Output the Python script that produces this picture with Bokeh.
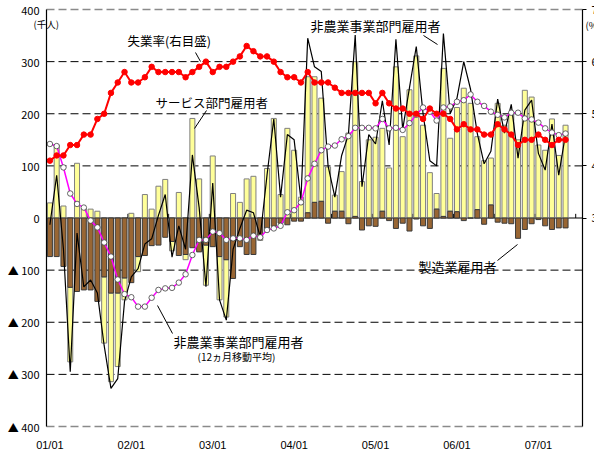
from bokeh.plotting import figure
from bokeh.models import Range1d, LinearAxis, FixedTicker, Label, ColumnDataSource
from bokeh.embed import file_html
from bokeh.resources import INLINE

# ---------------- data (thousand persons / %) Jan 2001 - May 2007 ----------------
manufacturing = [
    -74, -74, -93, -133, -141, -138, -138, -160, -113, -144, -144, -115,
    -124, -74, -72, -53, -52, -37, -45, -72, -70, -57, -65, -52,
    -55, -74, -80, -116, -55, -70, -70, -33, -20, -16, -10, -13,
    -6, -6, 10, 30, 32, -10, 13, 13, -11, 3, -23, -15,
    -16, 13, -5, -20, -10, -25, -2, -15, -20, 17, 3, 13,
    12, -5, 0, 16, -12, 25, -8, -10, -11, -39, -22, -11,
    -3, -15, -22, -19, -19,
]
services = [
    29, 140, 23, -143, 105, 19, 17, 13, -127, -170, -141, -42,
    9, -29, 45, 17, 61, 74, -18, 49, -10, 191, 75, -77,
    119, -83, -110, 47, 30, 75, 80, -10, 95, 191, 45, 172,
    130, 40, 261, 241, 198, 98, 31, 76, 163, 297, 70, 150,
    155, 159, 96, 290, 156, 246, 311, 178, 87, 30, 284, 140,
    200, 249, 220, 140, 110, 90, 220, 178, 200, 150, 245, 232,
    140, 130, 190, 120, 178,
]
nonfarm = [
    -13, 82, -60, -295, -29, -132, -119, -144, -245, -327, -308, -160,
    -113, -97, -50, -40, 5, 45, -75, -15, -60, 121, 20, -132,
    67, -157, -196, -60, -20, 15, 10, -36, 82, 190, 40, 160,
    150, 35, 345, 290, 281, 100, 40, 120, 160, 351, 60, 160,
    142, 225, 140, 343, 170, 250, 329, 200, 110, 100, 354, 200,
    230, 300, 247, 162, 104, 128, 228, 163, 218, 115, 207, 226,
    124, 92, 180, 82, 161,
]
nonfarm_ma12 = [
    142, 138, 97, 47, 27, 20, -5, -18, -47, -74, -118, -146,
    -152, -170, -170, -153, -138, -135, -134, -124, -108, -71, -42, -42,
    -26, -29, -42, -39, -39, -42, -34, -37, -23, -20, -15, 11,
    15, 30, 76, 104, 130, 137, 139, 151, 157, 173, 173, 173,
    172, 190, 172, 173, 169, 182, 198, 212, 204, 187, 212, 214,
    223, 226, 237, 223, 215, 204, 198, 193, 202, 202, 191, 189,
    183, 172, 164, 159, 162,
]
unemployment = [
    4.1, 4.2, 4.2, 4.4, 4.4, 4.6, 4.6, 4.9, 5.0, 5.4, 5.6, 5.8,
    5.6, 5.6, 5.7, 5.9, 5.8, 5.8, 5.8, 5.8, 5.7, 5.8, 5.9, 6.0,
    5.8, 5.9, 5.9, 6.0, 6.1, 6.3, 6.2, 6.1, 6.1, 6.0, 5.8, 5.7,
    5.7, 5.6, 5.8, 5.6, 5.6, 5.6, 5.5, 5.4, 5.4, 5.4, 5.4, 5.4,
    5.2, 5.4, 5.2, 5.1, 5.1, 5.0, 5.0, 4.9, 5.1, 5.0, 5.0, 4.9,
    4.7, 4.8, 4.7, 4.7, 4.6, 4.6, 4.8, 4.7, 4.6, 4.4, 4.5, 4.5,
    4.6, 4.5, 4.4, 4.5, 4.5,
]
year_labels = ["01/01", "02/01", "03/01", "04/01", "05/01", "06/01", "07/01"]
left_ticks = [-400, -300, -200, -100, 0, 100, 200, 300, 400]
right_ticks = [3, 4, 5, 6, 7]

N_SLOTS = 79          # monthly category slots on the axis (Jan 2001 - Jul 2007)
FONT = "Noto Sans CJK JP"
NUMFONT = "Liberation Sans"

# ---------------- geometry: the frame fills the canvas, axes sit at fixed locations ----------------
W, H = 594, 450
LEFT_PX, RIGHT_PX = 46, 582      # page columns of the two axis lines
TOP_PX, BOT_PX = 9, 426          # page rows of +400 / -400
SLOT = (RIGHT_PX - LEFT_PX) / N_SLOTS
YS = (BOT_PX - TOP_PX) / 800.0
x_lo = -0.5 - LEFT_PX / SLOT
x_hi = N_SLOTS - 0.5 + (W - RIGHT_PX) / SLOT
y_hi = 400 + TOP_PX / YS
y_lo = -400 - (H - BOT_PX) / YS

def X(px):
    return -0.5 + (px - LEFT_PX) / SLOT
def Y(py):
    return 400 - (py - TOP_PX) / YS

n = len(nonfarm)
xs = list(range(n))
# stacked columns (manufacturing next to zero, services stacked when same sign)
svc_bottom = [m if m * s > 0 else 0 for m, s in zip(manufacturing, services)]
svc_top = [b + s for b, s in zip(svc_bottom, services)]
src = ColumnDataSource(dict(x=xs, mfg=manufacturing, sb=svc_bottom, st=svc_top,
                            nf=nonfarm, ma=nonfarm_ma12, ur=unemployment))

p = figure(width=W, height=H, output_backend="svg", toolbar_location=None,
           x_range=Range1d(x_lo, x_hi), y_range=Range1d(y_lo, y_hi),
           min_border=0, min_border_left=0, min_border_right=0,
           min_border_top=0, min_border_bottom=0)
p.title.visible = False
p.extra_y_ranges = {"rate": Range1d(3 + y_lo / 100.0, 3 + y_hi / 100.0)}
p.outline_line_color = None
p.xgrid.visible = False
p.ygrid.visible = False

# horizontal grid lines (dashed) between the two axis lines
inner = [t for t in left_ticks if t not in (0, 400, -400)]
edge = [-400, 400]
p.segment(x0=[-0.5] * len(inner), y0=inner, x1=[N_SLOTS - 0.5] * len(inner), y1=inner,
          line_color="black", line_width=1, line_dash="8 4")
p.segment(x0=[-0.5] * 2, y0=edge, x1=[N_SLOTS - 0.5] * 2, y1=edge,
          line_color="#8a8a8a", line_width=1.5, line_dash="8 4")

# left axis
ya = p.yaxis[0]
ya.fixed_location = -0.5
ya.bounds = (-400, 400)
ya.ticker = FixedTicker(ticks=left_ticks)
ya.major_label_overrides = {t: (f"▲ {abs(t)}" if t < 0 else str(t)) for t in left_ticks}
ya.axis_line_color = "black"
ya.axis_line_width = 1.2
ya.major_tick_out = 0
ya.major_tick_in = 0
ya.minor_tick_line_color = None
ya.major_label_standoff = 7
ya.major_label_text_font = FONT
ya.major_label_text_font_size = "11px"
ya.major_label_text_color = "black"

# bottom axis (labels only, under the -400 line)
xa = p.xaxis[0]
xa.fixed_location = -400
xa.ticker = FixedTicker(ticks=[12 * k for k in range(len(year_labels))])
xa.major_label_overrides = {12 * k: lab for k, lab in enumerate(year_labels)}
xa.axis_line_color = None
xa.major_tick_line_color = None
xa.major_tick_out = 0
xa.major_tick_in = 0
xa.minor_tick_line_color = None
xa.major_label_standoff = 12
xa.major_label_text_font = NUMFONT
xa.major_label_text_font_size = "11px"
xa.major_label_text_color = "black"

# right axis (unemployment rate, 3-7 %), its numbers run off the page edge like the original
ra = LinearAxis(y_range_name="rate", ticker=FixedTicker(ticks=right_ticks),
                fixed_location=N_SLOTS - 0.5, bounds=(-1, 7),
                axis_line_color="black", axis_line_width=1.2,
                major_tick_in=0, major_tick_out=4, minor_tick_line_color=None,
                major_label_standoff=5, major_label_text_font=FONT,
                major_label_text_font_size="11px", major_label_text_color="black")
p.add_layout(ra, "right")

# zero line with half-year ticks
p.segment(x0=[-0.5], y0=[0], x1=[N_SLOTS - 0.5], y1=[0], line_color="black", line_width=1.2)
half_years = [6 * k - 0.5 for k in range(1, N_SLOTS // 6 + 1)]
p.segment(x0=half_years, y0=[0] * len(half_years), x1=half_years, y1=[8] * len(half_years),
          line_color="black", line_width=1)

# bars
p.vbar(x="x", width=0.74, bottom="sb", top="st", fill_color="#FFFF99",
       line_color="#7f7f7f", line_width=1, source=src)
p.vbar(x="x", width=0.74, bottom=0, top="mfg", fill_color="#996633",
       line_color="#3a3a3a", line_width=1, source=src)

# lines
p.line("x", "nf", color="black", line_width=1.2, source=src)
p.line("x", "ma", color="#FF00FF", line_width=1.5, source=src)
p.scatter("x", "ma", marker="circle", size=5.5, fill_color="white",
          line_color="#404040", line_width=0.8, source=src)
p.line("x", "ur", y_range_name="rate", color="#FF0000", line_width=2, source=src)
p.scatter("x", "ur", y_range_name="rate", marker="circle", size=5.5,
          fill_color="#FF0000", line_color="#FF0000", source=src)

# ---------------- annotations ----------------
def txt(px, py, s, size="13px"):
    p.add_layout(Label(x=X(px), y=Y(py), text=s, text_font=FONT, text_font_size=size,
                       text_baseline="middle", text_align="left", text_color="black"))

def leader(x0, y0, x1, y1):
    p.segment(x0=[X(x0)], y0=[Y(y0)], x1=[X(x1)], y1=[Y(y1)], line_color="black", line_width=1)

txt(127, 40, "失業率(右目盛)", "12.5px")
leader(195, 52, 200, 61)
txt(155, 102, "サービス部門雇用者", "12.5px")
leader(206, 110, 194, 128)
txt(310, 25, "非農業事業部門雇用者", "13px")
leader(423, 35, 437, 44)
txt(418, 266, "製造業雇用者", "13px")
leader(497, 260, 517, 244)
txt(173, 341, "非農業事業部門雇用者", "13px")
txt(197, 356, "(12ヵ月移動平均)", "10px")
leader(172, 333, 157, 305)
txt(33, 23, "(千人)", "9.5px")
txt(585, 24, "(%)", "9.5px")

open("out.html", "w").write(file_html(p, INLINE))
